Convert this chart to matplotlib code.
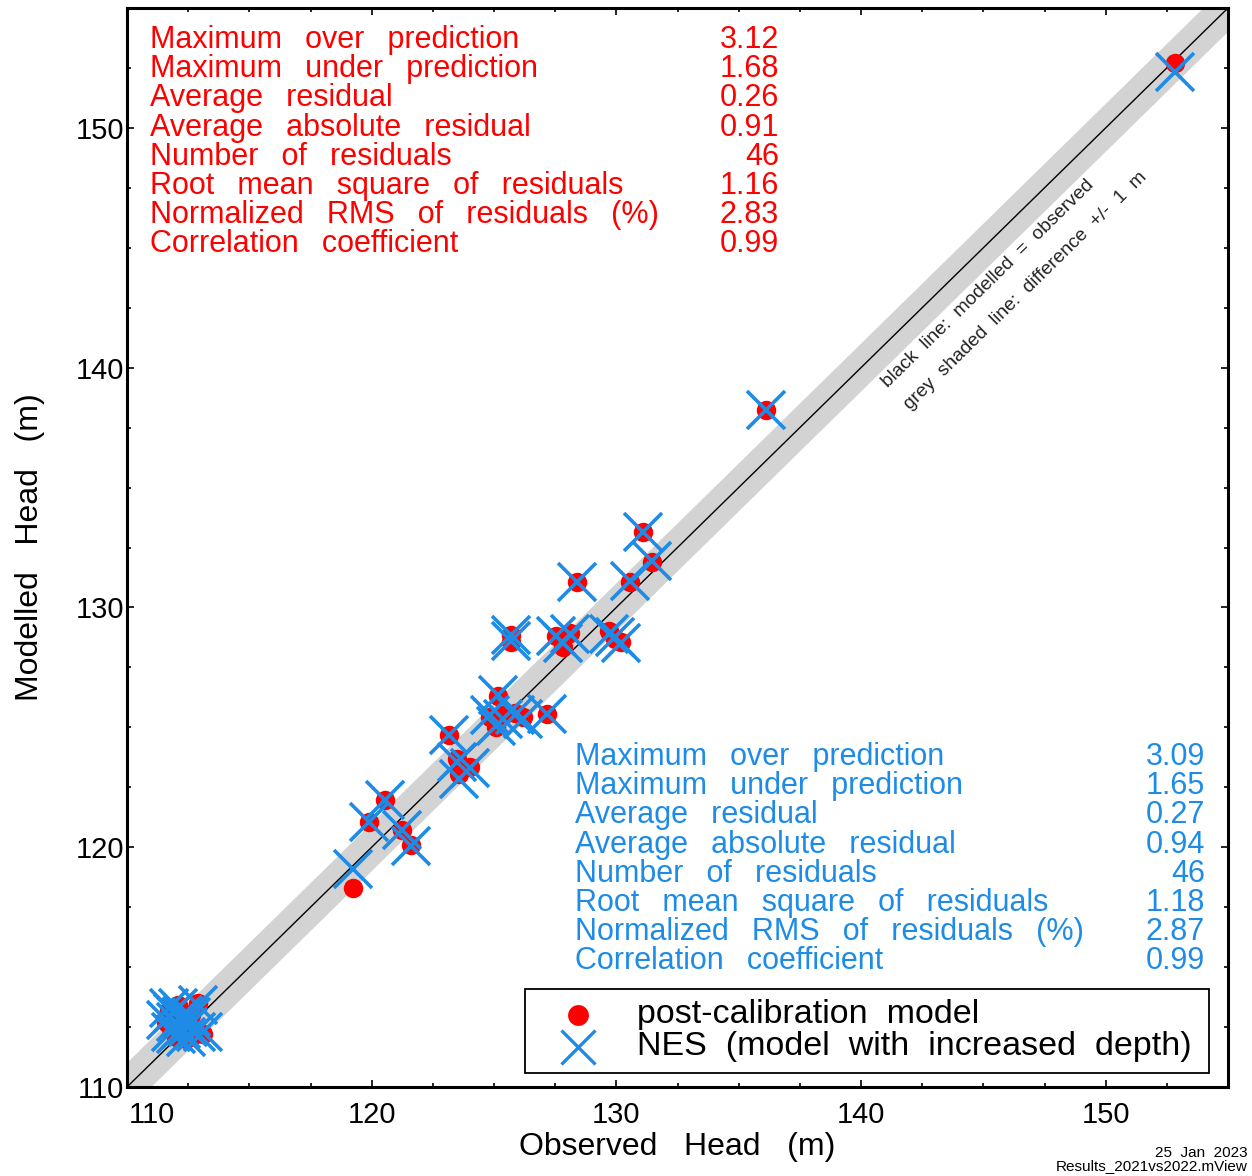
import matplotlib.pyplot as plt
import numpy as np
from matplotlib.lines import Line2D
from matplotlib.patches import Rectangle
from matplotlib.ticker import FuncFormatter, MultipleLocator

plt.rcParams['font.family'] = ['Liberation Sans', 'DejaVu Sans']

# observed heads and the modelled heads of the two runs (m)
observed = [152.85, 136.1, 131.1, 131.45, 128.4, 130.55, 125.7, 125.7, 127.55, 128.1,
            127.8, 129.7, 129.95, 130.2, 125.15, 124.85, 125.35, 125.85, 126.2, 125.1,
            127.15, 123.15, 123.5, 124.0, 123.55, 120.55, 119.9, 121.25, 121.6, 119.25,
            111.6, 111.7, 111.8, 111.9, 112.0, 112.0, 112.1, 112.2, 112.2, 112.3,
            112.4, 112.5, 112.6, 112.8, 112.9, 113.1]
post_cal = [152.7, 138.25, 133.15, 131.9, 131.05, 131.05, 128.85, 128.55, 128.8, 128.95,
            128.35, 129.0, 128.7, 128.55, 126.3, 125.45, 125.5, 125.6, 125.45, 125.0,
            125.55, 124.7, 123.7, 123.35, 123.05, 121.95, 121.05, 120.7, 120.1, 118.3,
            112.7, 113.2, 112.4, 113.0, 112.1, 112.9, 113.4, 112.3, 112.8, 113.1,
            112.0, 112.6, 113.0, 112.2, 113.5, 112.2]
nes = [152.35, 138.25, 133.15, 131.95, 131.05, 131.1, 128.85, 128.6, 128.8, 128.9,
       128.5, 128.9, 128.75, 128.5, 126.35, 125.5, 125.35, 125.5, 125.35, 125.05,
       125.55, 124.7, 123.55, 123.3, 122.85, 121.95, 121.05, 120.7, 120.05, 119.1,
       112.8, 113.3, 112.3, 113.1, 112.2, 112.7, 113.3, 112.4, 112.9, 113.0,
       112.1, 112.5, 112.9, 112.3, 113.4, 112.3]

stat_names = ['Maximum over prediction', 'Maximum under prediction', 'Average residual',
              'Average absolute residual', 'Number of residuals',
              'Root mean square of residuals', 'Normalized RMS of residuals (%)',
              'Correlation coefficient']
post_cal_stats = ['3.12', '1.68', '0.26', '0.91', '46', '1.16', '2.83', '0.99']
nes_stats = ['3.09', '1.65', '0.27', '0.94', '46', '1.18', '2.87', '0.99']

RED = '#ff0000'
BLUE = '#1e8ce6'
GAP = '  \u2009'  # wide word spacing of the stats text

W, H = 1252, 1176
fig = plt.figure(figsize=(W / 100, H / 100), dpi=100)
ax = fig.add_axes([127 / W, 1 - 1087 / H, (1228 - 127) / W, (1087 - 8) / H])


def fx(px):
    return px / W


def fy(py):
    return 1 - py / H


lo, hi = 110, 155
line = np.array([lo - 5, hi + 5])
ax.fill_between(line, line - 1, line + 1, color='#d3d3d3', lw=0, zorder=1)
ax.plot(line, line, color='black', lw=1, zorder=2)

ax.plot(observed, post_cal, 'o', color=RED, ms=14, mec='none', zorder=3)
ax.plot(observed, nes, 'x', color=BLUE, ms=28, mew=2.6, zorder=4)

ax.set_xlim(lo, hi)
ax.set_ylim(lo, hi)
ax.xaxis.set_major_locator(MultipleLocator(10))
ax.yaxis.set_major_locator(MultipleLocator(10))
ax.xaxis.set_minor_locator(MultipleLocator(2.5))
ax.yaxis.set_minor_locator(MultipleLocator(2.5))
# the corner value on x is written separately, left aligned
ax.xaxis.set_major_formatter(FuncFormatter(lambda v, p: '' if v == lo else f'{v:.0f}'))
ax.tick_params(which='both', direction='in', top=True, right=True, width=1.2)
ax.tick_params(which='major', length=5, labelsize=21)
ax.tick_params(which='minor', length=3)
ax.tick_params(axis='x', pad=10)
ax.tick_params(axis='y', pad=2)
for s in ax.spines.values():
    s.set_linewidth(2.2)
ax.annotate(f'{lo}', xy=(lo, 0), xycoords=('data', 'axes fraction'),
            xytext=(1, -10), textcoords='offset points', ha='left', va='top', fontsize=21)

ax.set_xlabel('Observed   Head   (m)', fontsize=23, labelpad=2)
ax.set_ylabel('Modelled   Head   (m)', fontsize=23, labelpad=22)

# summary statistics for each run
for i, (name, v) in enumerate(zip(stat_names, post_cal_stats)):
    y = fy(40 + 29.2 * i)
    fig.text(fx(150), y, name.replace(' ', GAP), color=RED, fontsize=22, va='center')
    fig.text(fx(779), y, v, color=RED, fontsize=22, va='center', ha='right')
for i, (name, v) in enumerate(zip(stat_names, nes_stats)):
    y = fy(757 + 29.2 * i)
    fig.text(fx(575), y, name.replace(' ', GAP), color=BLUE, fontsize=22, va='center')
    fig.text(fx(1205), y, v, color=BLUE, fontsize=22, va='center', ha='right')

# legend box
fig.add_artist(Rectangle((fx(525), fy(1073)), (1209 - 525) / W, (1073 - 989) / H,
                         transform=fig.transFigure, facecolor='white', edgecolor='black',
                         lw=1.3, zorder=5))
fig.add_artist(Line2D([fx(578)], [fy(1015)], marker='o', color=RED, ms=15, mec='none',
                      transform=fig.transFigure, zorder=6))
fig.add_artist(Line2D([fx(578)], [fy(1047)], marker='x', color=BLUE, ms=24, mew=2.4,
                      transform=fig.transFigure, zorder=6))
fig.text(fx(637), fy(1015), 'post-calibration  model', fontsize=24.5, va='center', zorder=6)
fig.text(fx(637), fy(1047), 'NES  (model  with  increased  depth)', fontsize=24.5,
         va='center', zorder=6)

ax.text((888 - 127) / 1101, (1087 - 388) / 1079, 'black  line:  modelled  =  observed',
        transform=ax.transAxes, rotation=44.4, rotation_mode='anchor', fontsize=13.8,
        color='#222222')
ax.text((910 - 127) / 1101, (1087 - 410) / 1079, 'grey  shaded  line:  difference  +/-  1  m',
        transform=ax.transAxes, rotation=44.4, rotation_mode='anchor', fontsize=13.8,
        color='#222222')

fig.text(fx(1248), fy(1153), '25  Jan  2023', fontsize=11, ha='right', va='center')
fig.text(fx(1248), fy(1166), 'Results_2021vs2022.mView', fontsize=11, ha='right', va='center')

fig.savefig('out.png', dpi=100)
